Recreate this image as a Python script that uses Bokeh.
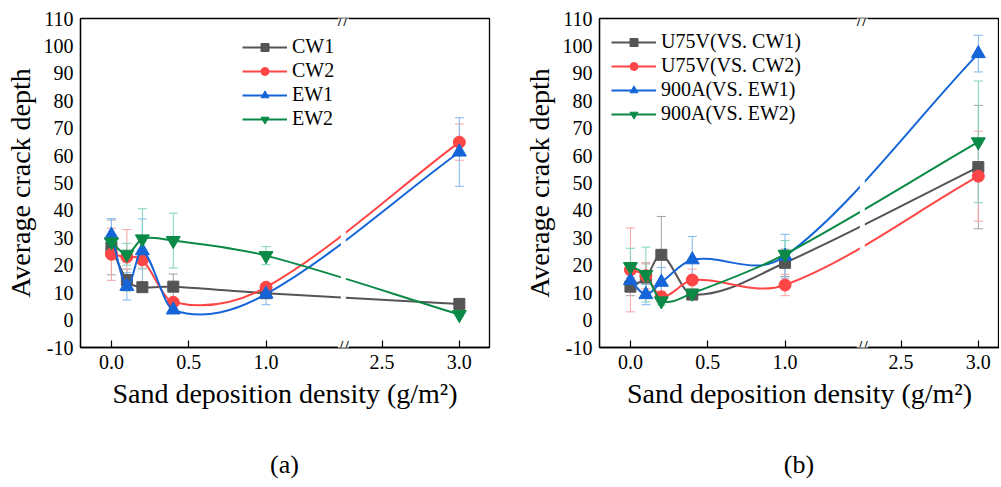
import numpy as np
from bokeh.plotting import figure
from bokeh.layouts import row, column
from bokeh.models import Legend, LegendItem, Label, BoxAnnotation, FixedTicker, Div
from bokeh.embed import file_html
from bokeh.resources import INLINE

FONT = "Liberation Serif"

# ---------------- data ----------------
x_density = [0.0, 0.1, 0.2, 0.4, 1.0, 3.0]

a_names = ["CW1", "CW2", "EW1", "EW2"]
a_cw1 = [26.5, 14.6, 12.0, 12.2, 9.8, 5.9]
a_cw1_err = [10.0, 4.0, 1.5, 4.6, 1.0, 0.5]
a_cw2 = [24.0, 23.0, 22.0, 6.5, 12.0, 64.9]
a_cw2_err = [9.5, 10.0, 3.0, 1.0, 1.5, 6.6]
a_ew1 = [31.0, 12.3, 25.3, 3.7, 9.5, 61.3]
a_ew1_err = [6.0, 5.0, 11.6, 0.5, 3.9, 12.5]
a_ew2 = [28.5, 24.0, 29.6, 29.0, 23.5, 2.0]
a_ew2_err = [2.0, 4.0, 11.0, 10.0, 3.3, 0.5]

b_names = ["U75V(VS. CW1)", "U75V(VS. CW2)", "900A(VS. EW1)", "900A(VS. EW2)"]
b_u1 = [12.2, 15.5, 23.8, 9.3, 20.9, 55.8]
b_u1_err = [3.3, 5.0, 14.0, 1.5, 5.0, 22.5]
b_u2 = [18.3, 16.2, 8.5, 14.6, 12.8, 52.5]
b_u2_err = [15.3, 4.8, 2.0, 4.0, 3.9, 16.4]
b_e1 = [14.4, 9.3, 13.8, 22.0, 23.3, 97.2]
b_e1_err = [4.0, 3.7, 5.4, 8.5, 8.0, 6.7]
b_e2 = [19.5, 16.6, 7.0, 9.8, 24.0, 65.0]
b_e2_err = [6.7, 10.0, 1.5, 1.0, 5.0, 22.2]

x_tick_values = [0.0, 0.5, 1.0, 2.5, 3.0]
x_tick_labels = ["0.0", "0.5", "1.0", "2.5", "3.0"]
y_ticks = list(range(-10, 111, 10))
y_tick_labels = [str(v) for v in y_ticks]
panel_tags = ["(a)", "(b)"]

# ---------------- styles ----------------
COLORS = ["#555555", "#ff4646", "#1565d8", "#0a8a46"]
ERR_COLORS = ["#a3a3a3", "#f7a3a3", "#80b8ef", "#7fd3bb"]
MARKERS = ["square", "circle", "triangle", "inverted_triangle"]
SIZES = [11, 12, 14, 14]

BREAK_LO, BREAK_HI = 1.5, 2.25
FIG_H = 440


def disp(x):
    x = np.asarray(x, dtype=float)
    return np.where(x <= BREAK_LO, x, x - (BREAK_HI - BREAK_LO))


def smooth_bezier(xd, y):
    """Smooth (Hermite) curve through the points, as bezier segments."""
    xd = np.asarray(xd, float)
    y = np.asarray(y, float)
    n = len(xd)
    h = np.diff(xd)
    m = np.zeros(n)
    m[0] = (y[1] - y[0]) / h[0]
    m[-1] = (y[-1] - y[-2]) / h[-1]
    for i in range(1, n - 1):
        m[i] = (y[i + 1] - y[i - 1]) / (xd[i + 1] - xd[i - 1])
    return dict(
        x0=xd[:-1], y0=y[:-1], x1=xd[1:], y1=y[1:],
        cx0=xd[:-1] + h / 3, cy0=y[:-1] + m[:-1] * h / 3,
        cx1=xd[1:] - h / 3, cy1=y[1:] - m[1:] * h / 3,
    )


def make_panel(names, values, errors, width, mbl, mbr, x_end, legend_xy):
    p = figure(width=width, height=FIG_H, x_range=(-0.2, x_end), y_range=(-10, 110),
               output_backend="svg", toolbar_location=None,
               min_border_left=mbl, min_border_right=mbr,
               min_border_top=18, min_border_bottom=FIG_H - 18 - 329)
    p.background_fill_color = "white"
    p.border_fill_color = "white"
    p.outline_line_color = "black"
    p.outline_line_width = 1.3
    p.xgrid.visible = False
    p.ygrid.visible = False

    xt = [float(v) for v in disp(x_tick_values)]
    p.xaxis.ticker = FixedTicker(ticks=xt)
    p.xaxis.major_label_overrides = {v: l for v, l in zip(xt, x_tick_labels)}
    p.yaxis.ticker = FixedTicker(ticks=y_ticks)
    p.yaxis.major_label_overrides = {v: l for v, l in zip(y_ticks, y_tick_labels)}

    for ax in (p.xaxis[0], p.yaxis[0]):
        ax.axis_line_color = "black"
        ax.axis_line_width = 1.3
        ax.major_tick_line_color = "black"
        ax.major_tick_line_width = 1.2
        ax.minor_tick_line_color = None
        ax.major_label_text_font = FONT
        ax.major_label_text_font_size = "20px"
        ax.major_label_text_color = "black"
        ax.axis_label_text_font = FONT
        ax.axis_label_text_font_size = "28px"
        ax.axis_label_text_font_style = "normal"
        ax.axis_label_text_color = "black"
        ax.major_label_standoff = 7
    p.xaxis.axis_label_standoff = 6
    p.yaxis.axis_label_standoff = 5
    p.xaxis.major_tick_in = 7
    p.xaxis.major_tick_out = 0
    p.yaxis.major_tick_in = 0
    p.yaxis.major_tick_out = 0
    p.xaxis.axis_label = "Sand deposition density (g/m²)"
    p.yaxis.axis_label = "Average crack depth"

    xd = disp(x_density)
    # error bars
    for i in range(4):
        y = np.asarray(values[i], float)
        e = np.asarray(errors[i], float)
        p.segment(x0=xd, y0=y - e, x1=xd, y1=y + e, line_color=ERR_COLORS[i], line_width=1)
        p.scatter(x=xd, y=y + e, marker="dash", size=9, line_color=ERR_COLORS[i], line_width=1)
        p.scatter(x=xd, y=y - e, marker="dash", size=9, line_color=ERR_COLORS[i], line_width=1)

    items = []
    for i in range(4):
        y = np.asarray(values[i], float)
        bz = smooth_bezier(xd, y)
        p.bezier(line_color=COLORS[i], line_width=2, line_cap="round", **bz)
        leg_line = p.line(x=[np.nan, np.nan], y=[np.nan, np.nan],
                          line_color=COLORS[i], line_width=2)
        sc = p.scatter(x=xd, y=y, marker=MARKERS[i], size=SIZES[i],
                       fill_color=COLORS[i], line_color=COLORS[i], line_width=1)
        items.append(LegendItem(label=names[i], renderers=[leg_line, sc]))

    # gap of the lines at the axis break
    p.add_layout(BoxAnnotation(left=BREAK_LO - 0.016, right=BREAK_LO + 0.016,
                               fill_color="white", fill_alpha=1.0, line_alpha=0))
    for yy in (-10, 110):
        p.add_layout(Label(x=BREAK_LO, y=yy, text="//", text_align="center",
                           text_baseline="middle", text_font=FONT, text_font_size="20px",
                           text_color="black", background_fill_color="white",
                           background_fill_alpha=1.0, level="overlay"))

    legend = Legend(items=items, location=legend_xy, orientation="vertical",
                    glyph_width=45, glyph_height=20, label_height=20, spacing=1,
                    padding=0, margin=0, label_standoff=5,
                    border_line_alpha=0, background_fill_alpha=0,
                    label_text_font=FONT, label_text_font_size="20px",
                    label_text_color="black")
    p.add_layout(legend)
    return p


def tag_div(text, width, margin):
    return Div(text=text, width=width, height=46, margin=margin,
               styles={"font-family": FONT, "font-size": "26px", "color": "black",
                       "text-align": "center", "line-height": "50px",
                       "width": f"{width}px"})


pa = make_panel(a_names, [a_cw1, a_cw2, a_ew1, a_ew2],
                [a_cw1_err, a_cw2_err, a_ew1_err, a_ew2_err],
                width=510, mbl=80, mbr=21, x_end=2.445,
                legend_xy=(162, 217))
pb = make_panel(b_names, [b_u1, b_u2, b_e1, b_e2],
                [b_u1_err, b_u2_err, b_e1_err, b_e2_err],
                width=489, mbl=89, mbr=0, x_end=2.387,
                legend_xy=(12, 222))

da = tag_div(panel_tags[0], 409, (0, 21, 0, 80))
db = tag_div(panel_tags[1], 400, (0, 0, 0, 89))

layout = column(row(pa, pb), row(da, db))
open("out.html", "w").write(file_html(layout, INLINE))
